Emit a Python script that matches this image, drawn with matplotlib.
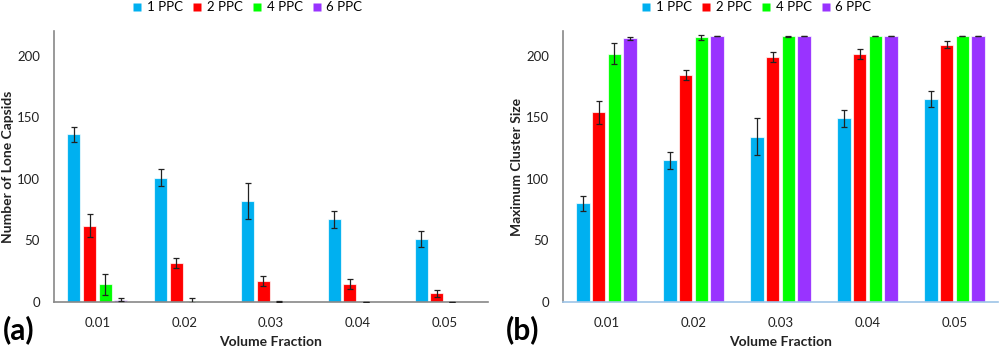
import matplotlib
matplotlib.use("Agg")
import matplotlib.pyplot as plt
import numpy as np
from matplotlib.lines import Line2D

plt.rcParams['font.family'] = ['Lato', 'DejaVu Sans']

categories = ["0.01", "0.02", "0.03", "0.04", "0.05"]
series_names = ["1 PPC", "2 PPC", "4 PPC", "6 PPC"]
colors = ["#00B0F0", "#FF0000", "#00FF00", "#9933FF"]

# Panel (a): Number of Lone Capsids
lone_1 = [136, 101, 82, 67, 51]
lone_2 = [62, 31.5, 17, 14.5, 7]
lone_4 = [14.5, 1.2, 0.3, 0, 0]
lone_6 = [2, 0, 0, 0, 0]
lone_1_err = [6, 7, 15, 7, 6.5]
lone_2_err = [9.5, 4, 4, 4, 3]
lone_4_err = [8.5, 2, 0.5, 0.2, 0.2]
lone_6_err = [1, 0, 0, 0, 0]

# Panel (b): Maximum Cluster Size
max_1 = [80, 115, 134, 149, 165]
max_2 = [154, 184.5, 199, 201.5, 209]
max_4 = [201.5, 214.8, 215.7, 216, 216]
max_6 = [214, 216, 216, 216, 216]
max_1_err = [6, 7, 15, 7, 6.5]
max_2_err = [9.5, 4, 4, 4, 3]
max_4_err = [8.5, 2, 0.5, 0.2, 0.2]
max_6_err = [1, 0.2, 0.2, 0.2, 0.2]

yticks = [0, 50, 100, 150, 200]

fig = plt.figure(figsize=(10, 3.49), dpi=100)
ax_a = fig.add_axes([0.054, 0.1347, 0.434, 0.7765])
ax_b = fig.add_axes([0.563, 0.1347, 0.435, 0.7765])

x = np.arange(len(categories))
width = 0.15
offsets = [-0.27, -0.09, 0.09, 0.27]

def draw(ax, vals, errs, ylabel, bottom_color):
    for v, e, c, off in zip(vals, errs, colors, offsets):
        v = np.asarray(v, dtype=float)
        e = np.asarray(e, dtype=float)
        ax.bar(x + off, v, width, color=c, edgecolor=(1, 1, 1, 0.7), linewidth=0.8, zorder=2)
        m = e > 0
        ax.errorbar((x + off)[m], v[m], yerr=e[m], fmt='none', ecolor='#222222', elinewidth=0.9,
                    capsize=2, capthick=0.9, zorder=3)
    ax.set_xlim(-0.5, len(categories) - 0.5)
    ax.set_ylim(0, 220)
    ax.set_xticks(x)
    ax.set_xticklabels(categories, fontsize=9.5, color='#222222')
    ax.set_yticks(yticks)
    ax.set_yticklabels([str(t) for t in yticks], fontsize=9.5, color='#222222')
    ax.tick_params(axis='both', length=0)
    ax.tick_params(axis='x', pad=11)
    ax.tick_params(axis='y', pad=10)
    for s in ['top', 'right']:
        ax.spines[s].set_visible(False)
    ax.spines['left'].set_color('#888888')
    ax.spines['left'].set_linewidth(1.2)
    ax.spines['bottom'].set_color(bottom_color)
    ax.spines['bottom'].set_linewidth(1.2)
    ax.set_ylabel(ylabel, fontsize=10, fontweight='bold', color='#222222')
    ax.set_xlabel("Volume Fraction", fontsize=10, fontweight='bold', color='#222222')
    ax.xaxis.set_label_coords(0.5, -0.127)

draw(ax_a, [lone_1, lone_2, lone_4, lone_6], [lone_1_err, lone_2_err, lone_4_err, lone_6_err],
     "Number of Lone Capsids", '#888888')
ax_a.yaxis.set_label_coords(-0.092, 0.5)
draw(ax_b, [max_1, max_2, max_4, max_6], [max_1_err, max_2_err, max_4_err, max_6_err],
     "Maximum Cluster Size", '#9DC3E6')
ax_b.yaxis.set_label_coords(-0.092, 0.5)

def legend(left):
    handles = [Line2D([0], [0], marker='s', color='none', markerfacecolor=c, markeredgecolor='none',
                      markersize=5.3) for c in colors]
    fig.legend(handles, series_names, loc='center left', bbox_to_anchor=(left, 0.979), ncol=4,
               frameon=False, fontsize=9.5, handlelength=0.6, handletextpad=0.45,
               columnspacing=0.75, borderpad=0, borderaxespad=0)

legend(0.1335)
legend(0.6425)

fig.text(0.003, 0.054, "(a)", fontsize=21.5, fontweight='bold', va='center', ha='left')
fig.text(0.506, 0.054, "(b)", fontsize=21.5, fontweight='bold', va='center', ha='left')

fig.savefig("out.png", dpi=100)
